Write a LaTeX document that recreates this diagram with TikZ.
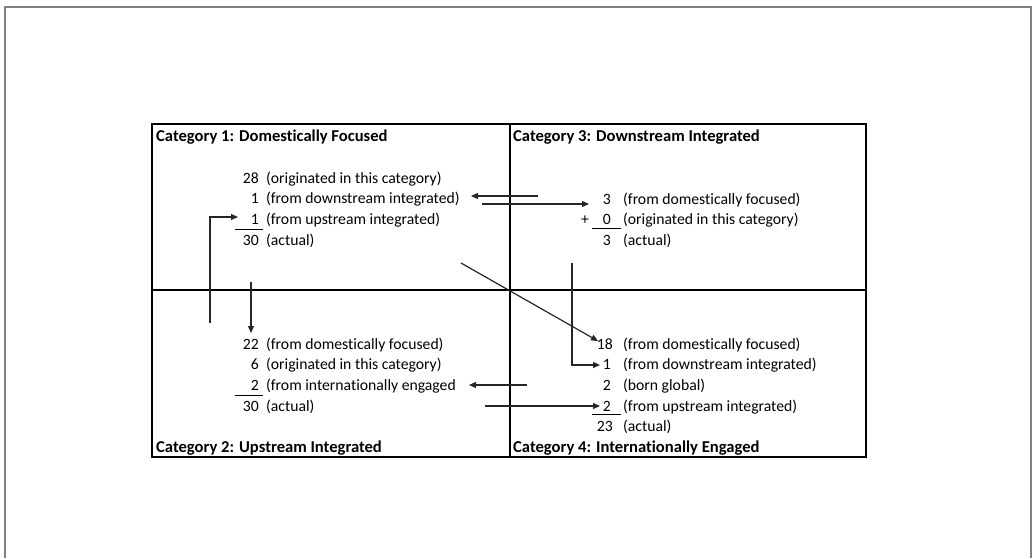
\documentclass[tikz,border=0pt]{standalone}
\usepackage{fontspec}
\setmainfont{Carlito}[Ligatures=NoCommon]
\usetikzlibrary{arrows.meta}
\begin{document}
\begin{tikzpicture}[x=1pt,y=-1pt,
  num/.style={anchor=base east, inner sep=0pt, font=\fontsize{15.7}{18}\selectfont},
  lbl/.style={anchor=base west, inner sep=0pt, font=\fontsize{15.7}{18}\selectfont},
  cattitle/.style={anchor=base west, inner sep=0pt, font=\fontsize{16.6}{18}\selectfont\bfseries},
  conn/.style={line width=1.2pt, draw=black!85, -{Triangle[length=7pt,width=6pt]}},
  lineonly/.style={line width=1.2pt, draw=black!85},
  sumline/.style={line width=1pt, draw=black},
  grid/.style={line width=2pt, draw=black},
  frame/.style={line width=2pt, draw=black!50}
]
\useasboundingbox (0,0) rectangle (1034,558);
\draw[frame] (5,558) -- (5,7) -- (1031,7) -- (1031,558);
% quadrant grid
\coordinate (tl) at (152,124); \coordinate (br) at (866,457);
\coordinate (mt) at (510,124); \coordinate (mb) at (510,457);
\coordinate (ml) at (152,290); \coordinate (mr) at (866,290);
\draw[grid] (tl) rectangle (br);
\draw[grid] (mt) -- (mb);
\draw[grid] (ml) -- (mr);

% titles
\node[cattitle] (t1) at (156,141) {Category 1: Domestically Focused};
\node[cattitle] (t3) at (513,141) {Category 3: Downstream Integrated};
\node[cattitle] (t2) at (156,452) {Category 2: Upstream Integrated};
\node[cattitle] (t4) at (513,452) {Category 4: Internationally Engaged};

% Category 1
\node[num] (c1n1) at (259,183) {28}; \node[lbl] (c1t1) at (266,183) {(originated in this category)};
\node[num] (c1n2) at (259,203) {1};  \node[lbl] (c1t2) at (266,203) {(from downstream integrated)};
\node[num] (c1n3) at (259,224) {1};  \node[lbl] (c1t3) at (266,224) {(from upstream integrated)};
\node[num] (c1n4) at (259,245) {30}; \node[lbl] (c1t4) at (266,245) {(actual)};
\draw[sumline] (235,229) -- (263,229);

% Category 3
\node[num] (c3n1) at (611,204) {3}; \node[lbl] (c3t1) at (623,204) {(from domestically focused)};
\node[lbl] (c3p)  at (581,224) {+};
\node[num] (c3n2) at (611,224) {0}; \node[lbl] (c3t2) at (623,224) {(originated in this category)};
\node[num] (c3n3) at (611,245) {3}; \node[lbl] (c3t3) at (623,245) {(actual)};
\draw[sumline] (592,228) -- (621,228);

% Category 2
\node[num] (c2n1) at (259,349) {22}; \node[lbl] (c2t1) at (266,349) {(from domestically focused)};
\node[num] (c2n2) at (259,369) {6};  \node[lbl] (c2t2) at (266,369) {(originated in this category)};
\node[num] (c2n3) at (259,390) {2};  \node[lbl] (c2t3) at (266,390) {(from internationally engaged};
\node[num] (c2n4) at (259,411) {30}; \node[lbl] (c2t4) at (266,411) {(actual)};
\draw[sumline] (235,395) -- (263,395);

% Category 4
\node[num] (c4n1) at (613,349) {18}; \node[lbl] (c4t1) at (623,349) {(from domestically focused)};
\node[num] (c4n2) at (611,369) {1};  \node[lbl] (c4t2) at (623,369) {(from downstream integrated)};
\node[num] (c4n3) at (611,390) {2};  \node[lbl] (c4t3) at (623,390) {(born global)};
\node[num] (c4n4) at (611,411) {2};  \node[lbl] (c4t4) at (623,411) {(from upstream integrated)};
\node[num] (c4n5) at (613,431) {23}; \node[lbl] (c4t5) at (623,431) {(actual)};
\draw[sumline] (592,414) -- (621,414);

% connectors
\coordinate (a1s) at (538,196); \coordinate (a1e) at (471,196);
\draw[conn] (a1s) -- (a1e);
\coordinate (a2s) at (482,204); \coordinate (a2e) at (589,204);
\draw[conn] (a2s) -- (a2e);
\coordinate (a3s) at (210,323); \coordinate (a3k) at (210,217); \coordinate (a3e) at (238,217);
\draw[conn] (a3s) -- (a3k) -- (a3e);
\coordinate (a4s) at (251,282); \coordinate (a4e) at (251,333);
\draw[conn] (a4s) -- (a4e);
\coordinate (a5s) at (461,263); \coordinate (a5e) at (598,341);
\draw[conn] (a5s) -- (a5e);
\coordinate (a6s) at (572,263); \coordinate (a6k) at (572,365); \coordinate (a6e) at (600,365);
\draw[conn] (a6s) -- (a6k) -- (a6e);
\coordinate (a7s) at (527,385); \coordinate (a7e) at (469,385);
\draw[conn] (a7s) -- (a7e);
\coordinate (a8s) at (485,406); \coordinate (a8e) at (600,406);
\draw[conn] (a8s) -- (a8e);
\end{tikzpicture}
\end{document}
